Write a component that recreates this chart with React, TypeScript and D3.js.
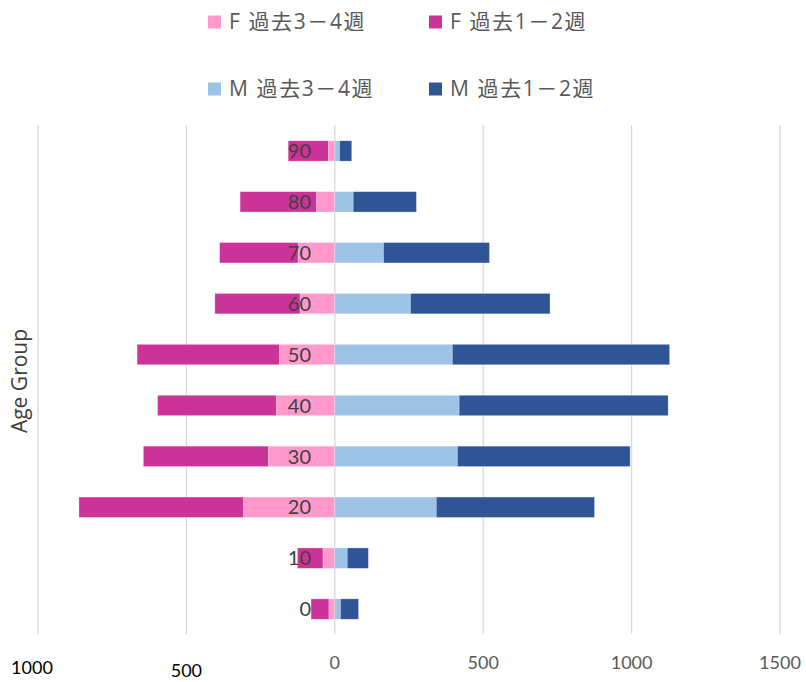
import * as d3 from "d3";

const ageGroups = ["0", "10", "20", "30", "40", "50", "60", "70", "80", "90"];
const fWeeks34 = [20, 40, 308, 224, 197, 187, 117, 124, 62, 22];
const fWeeks12 = [60, 86, 554, 421, 400, 479, 287, 264, 257, 135];
const mWeeks34 = [19, 42, 342, 413, 419, 396, 255, 164, 62, 16];
const mWeeks12 = [61, 71, 533, 582, 704, 732, 470, 357, 213, 41];
const tickValues = [-1000, -500, 0, 500, 1000, 1500];
const seriesNames = ["F 過去3－4週", "F 過去1－2週", "M 過去3－4週", "M 過去1－2週"];
const seriesColors = ["#ff99cc", "#cc3399", "#9dc3e6", "#2f5597"];

const W = 806;
const H = 682;
const FONT = "Lato, 'Noto Sans CJK JP', sans-serif";
const LEGEND_FONT = "'Open Sans', 'Noto Sans CJK JP', sans-serif";

export default function App() {
  const x = d3.scaleLinear().domain([-1000, 1500]).range([38, 780]);
  const y = d3
    .scaleBand<string>()
    .domain([...ageGroups].reverse())
    .range([125.5, 634.5])
    .paddingInner(0.6)
    .paddingOuter(0.3);

  // build stacked segments: F grows leftwards from 0, M rightwards
  const segs = ageGroups.flatMap((g, i) => {
    const f1 = fWeeks34[i];
    const f2 = f1 + fWeeks12[i];
    const m1 = mWeeks34[i];
    const m2 = m1 + mWeeks12[i];
    return [
      { g, x0: -f1, x1: 0, c: seriesColors[0] },
      { g, x0: -f2, x1: -f1, c: seriesColors[1] },
      { g, x0: 0, x1: m1, c: seriesColors[2] },
      { g, x0: m1, x1: m2, c: seriesColors[3] },
    ];
  });

  // hand-placed label nudges of the original (left side labels sit lower)
  const tickNudge: Record<number, [number, number]> = { [-1000]: [-6, 5], [-500]: [0, 8] };

  return (
    <svg
      width={W}
      height={H}
      style={{ position: "absolute", left: 0, top: 0, background: "#fff" }}
      fontFamily={FONT}
    >
      {/* legend */}
      {seriesNames.map((name, i) => {
        const lx = i % 2 === 0 ? 208 : 429;
        const ly = i < 2 ? 22 : 89;
        return (
          <g key={name}>
            <rect x={lx} y={ly - 6.5} width={13} height={13} fill={seriesColors[i]} />
            <text
              x={lx + 21}
              y={ly}
              dy="0.35em"
              fontSize={21}
              letterSpacing={1.6}
              fontFamily={LEGEND_FONT}
              fill="#595959"
            >
              {name}
            </text>
          </g>
        );
      })}

      {/* gridlines */}
      {tickValues.map((t) => (
        <line
          key={t}
          x1={x(t)}
          x2={x(t)}
          y1={125}
          y2={634}
          stroke="#d9d9d9"
          strokeWidth={1.3}
        />
      ))}

      {/* bars */}
      {segs.map((s, i) => (
        <rect
          key={i}
          x={x(s.x0)}
          y={y(s.g)}
          width={x(s.x1) - x(s.x0)}
          height={y.bandwidth()}
          fill={s.c}
          stroke="#ffffff"
          strokeOpacity={0.4}
          strokeWidth={0.6}
        />
      ))}

      {/* category labels */}
      {ageGroups.map((g) => (
        <text
          key={g}
          x={311}
          y={(y(g) ?? 0) + y.bandwidth() / 2}
          dy="0.36em"
          textAnchor="end"
          fontSize={20}
          fill="#404040"
        >
          {g}
        </text>
      ))}

      {/* x tick labels */}
      {tickValues.map((t) => {
        const [nx, ny] = tickNudge[t] ?? [0, 0];
        return (
          <text
            key={t}
            x={x(t) + nx}
            y={663 + ny}
            dy="0.35em"
            textAnchor="middle"
            fontSize={18}
            fill={t < 0 ? "#000000" : "#595959"}
          >
            {Math.abs(t)}
          </text>
        );
      })}

      {/* axis title */}
      <text
        transform="translate(20,381) rotate(-90)"
        dy="0.35em"
        textAnchor="middle"
        fontSize={21}
        fontFamily="'Open Sans', sans-serif"
        fill="#404040"
      >
        Age Group
      </text>
    </svg>
  );
}
